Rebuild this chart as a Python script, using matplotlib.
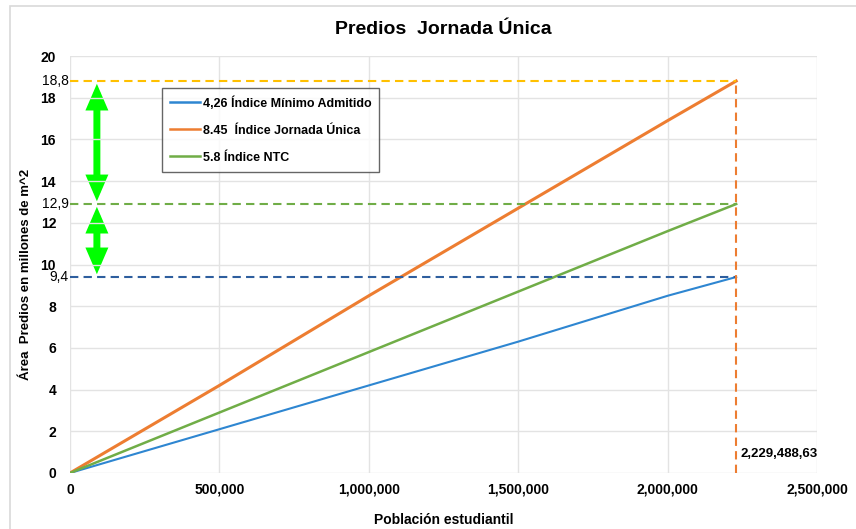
import matplotlib.pyplot as plt
from matplotlib.patches import Rectangle, FancyArrowPatch
from matplotlib.ticker import FuncFormatter

plt.rcParams['font.family'] = ['Liberation Sans', 'DejaVu Sans']

# data
poblacion = [0, 500000, 1000000, 1500000, 2000000, 2229488.63]
minimo = [0, 2.1, 4.2, 6.3, 8.5, 9.4]
jornada = [0, 4.2, 8.5, 12.7, 16.9, 18.8]
ntc = [0, 2.9, 5.8, 8.7, 11.6, 12.9]
labels = ['4,26 Índice Mínimo Admitido', '8.45  Índice Jornada Única', '5.8 Índice NTC']
x_final = 2229488.63
marcas = [18.8, 12.9, 9.4]
marcas_txt = ['18,8', '12,9', '9,4']

azul = '#2E86D1'
naranja = '#ED7D31'
verde = '#70AD47'
amarillo = '#FFC000'
azul_osc = '#2E5E9E'

fig = plt.figure(figsize=(8.56, 5.29), dpi=100)
fig.patches.append(Rectangle((10 / 856, -0.1), 1.2, 1 - 6 / 529 + 0.1,
                             transform=fig.transFigure, fill=False,
                             edgecolor='#D9D9D9', lw=1.2))
ax = fig.add_axes([70 / 856, (529 - 473) / 529, (817 - 70) / 856, (473 - 56) / 529])

ax.plot(poblacion, minimo, color=azul, lw=1.5, label=labels[0])
ax.plot(poblacion, jornada, color=naranja, lw=2.2, label=labels[1])
ax.plot(poblacion, ntc, color=verde, lw=1.8, label=labels[2])

# reference lines
ax.plot([0, x_final], [marcas[0]] * 2, ls=(0, (4, 2.5)), color=amarillo, lw=1.5)
ax.plot([0, x_final], [marcas[1]] * 2, ls=(0, (4, 2.5)), color=verde, lw=1.5)
ax.plot([0, x_final], [marcas[2]] * 2, ls=(0, (4, 2.5)), color=azul_osc, lw=1.5)
ax.plot([x_final, x_final], [0, marcas[0]], ls=(0, (4, 2.5)), color=naranja, lw=1.5)

# green double arrows
for y0, y1 in [(marcas[0], marcas[1]), (marcas[1], marcas[2])]:
    ax.add_patch(FancyArrowPatch((90000, y0), (90000, y1),
                                 arrowstyle='<|-|>,head_length=6.5,head_width=2.8',
                                 color='#00FF00', lw=5, shrinkA=2, shrinkB=2,
                                 mutation_scale=1.6, joinstyle='miter',
                                 capstyle='butt'))

ax.text(2245000, 0.6, '2,229,488,63', fontsize=9.5, fontweight='bold',
        ha='left', va='bottom')

ax.set_xlim(0, 2500000)
ax.set_ylim(0, 20)
ax.set_xticks(range(0, 2500001, 500000))
ax.set_yticks(range(0, 21, 2))
ax.xaxis.set_major_formatter(FuncFormatter(lambda v, p: f'{int(v):,}'))
ax.tick_params(length=0, labelsize=10)
ax.tick_params(axis='x', pad=7)
ax.tick_params(axis='y', pad=10)
for t in ax.get_xticklabels() + ax.get_yticklabels():
    t.set_fontweight('bold')
ax.grid(color='#E3E3E3', lw=1)
for s in ax.spines.values():
    s.set_visible(False)

for v, t in zip(marcas, marcas_txt):
    ax.text(-4000, v, t, fontsize=10, ha='right', va='center')

ax.set_title('Predios  Jornada Única', fontsize=14, fontweight='bold', pad=16)
ax.set_xlabel('Población estudiantil', fontsize=10, fontweight='bold')
ax.xaxis.set_label_coords(0.5, -0.095)
ax.set_ylabel('Área  Predios en millones de m^2', fontsize=9.5, fontweight='bold')
ax.yaxis.set_label_coords(-0.051, 0.475)

leg = ax.legend(loc='upper left', bbox_to_anchor=(0.123, 0.923),
                prop={'weight': 'bold', 'size': 9}, frameon=True, fancybox=False,
                edgecolor='#404040', handlelength=2.4, handletextpad=0.2,
                labelspacing=1.2, borderpad=0.65, borderaxespad=0)
leg.get_frame().set_linewidth(1.0)
for l in leg.get_lines():
    l.set_linewidth(1.8)

fig.savefig('out.png', dpi=100)
